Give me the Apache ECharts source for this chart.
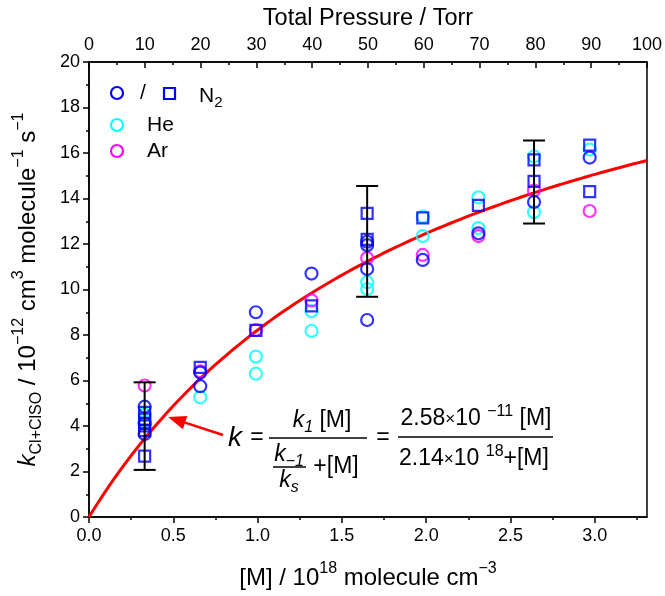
<!DOCTYPE html>
<html>
<head>
<meta charset="utf-8">
<script src="https://cdn.jsdelivr.net/npm/echarts@6/dist/echarts.min.js"></script>
<style>
  html, body { margin: 0; padding: 0; background: #fff; }
  #chart { width: 665px; height: 596px; }
</style>
</head>
<body>
<div id="chart"></div>
<script>
const FONT = '"Liberation Sans", Arial, Helvetica, sans-serif';

// [M] / 1e18 molecule cm^-3 ; k / 1e-12 cm^3 molecule^-1 s^-1
const n2Circles = [
  [0.33, 4.85], [0.33, 3.65], [0.33, 4.10],
  [0.66, 6.35], [0.66, 5.75],
  [0.99, 9.00],
  [1.32, 10.70],
  [1.65, 12.10], [1.65, 11.95], [1.65, 10.90], [1.65, 8.66],
  [1.98, 11.30],
  [2.31, 12.47],
  [2.64, 13.85],
  [2.97, 15.80]
];
const n2Squares = [
  [0.33, 4.60], [0.33, 4.30], [0.33, 4.00], [0.33, 3.80], [0.33, 2.68],
  [0.66, 6.58],
  [0.99, 8.20],
  [1.32, 9.28],
  [1.65, 13.35], [1.65, 12.20],
  [1.98, 13.15],
  [2.31, 13.70],
  [2.64, 15.70], [2.64, 14.75],
  [2.97, 16.35], [2.97, 14.30]
];
const heCircles = [
  [0.33, 4.50], [0.33, 4.20],
  [0.66, 5.26],
  [0.99, 7.05], [0.99, 6.30],
  [1.32, 9.05], [1.32, 8.18],
  [1.65, 10.32], [1.65, 10.02],
  [1.98, 13.20], [1.98, 12.35],
  [2.31, 14.05], [2.31, 12.70],
  [2.64, 15.85], [2.64, 13.40],
  [2.97, 16.15]
];
const arCircles = [
  [0.33, 5.78],
  [0.66, 6.40],
  [0.99, 8.22],
  [1.32, 9.52],
  [1.65, 11.38],
  [1.98, 11.52],
  [2.31, 12.35],
  [2.64, 14.35],
  [2.97, 13.45]
];
// [x, low, high]
const errorBars = [
  [0.33, 2.07, 5.92],
  [1.65, 9.68, 14.55],
  [2.64, 12.90, 16.55]
];

// fitted falloff: k = k1[M] / (k-1/ks + [M])
const fitK1 = 25.8;     // 2.58e-11 in units of 1e-12
const fitKRatio = 2.14; // 2.14e18 in units of 1e18

const xMax = 3.31;       // 100 Torr
const xLabelValues = [0, 0.5, 1.0, 1.5, 2.0, 2.5, 3.0];
const pressureMax = 100;

const fitCurve = [];
for (let i = 0; i <= 120; i++) {
  const m = xMax * i / 120;
  fitCurve.push([m, fitK1 * m / (fitKRatio + m)]);
}

const chart = echarts.init(document.getElementById('chart'), null, { renderer: 'canvas' });

const axisRich = {
  n: { fontSize: 24, lineHeight: 34, fontFamily: FONT, color: '#000' },
  i: { fontSize: 24, lineHeight: 34, fontFamily: FONT, color: '#000', fontStyle: 'italic' },
  sup: { fontSize: 16, lineHeight: 16, fontFamily: FONT, color: '#000', verticalAlign: 'top' },
  sub: { fontSize: 16, lineHeight: 16, fontFamily: FONT, color: '#000', verticalAlign: 'bottom' }
};

const eqRich = {
  n: { fontSize: 23, lineHeight: 30, fontFamily: FONT, color: '#000' },
  i: { fontSize: 23, lineHeight: 30, fontFamily: FONT, color: '#000', fontStyle: 'italic' },
  sup: { fontSize: 16, lineHeight: 16, fontFamily: FONT, color: '#000', verticalAlign: 'top' },
  sub: { fontSize: 16, lineHeight: 16, fontFamily: FONT, color: '#000', verticalAlign: 'bottom', fontStyle: 'italic' },
  x: { fontSize: 17, lineHeight: 30, fontFamily: FONT, color: '#000' }
};

function eqText(x, y, text, align) {
  return {
    type: 'text', x: x, y: y, z: 100,
    style: { text: text, rich: eqRich, align: align || 'center', verticalAlign: 'middle',
             textAlign: align || 'center', textVerticalAlign: 'middle' }
  };
}
function hLine(x1, x2, y, w) {
  return { type: 'line', z: 100, shape: { x1: x1, y1: y, x2: x2, y2: y },
           style: { stroke: '#000', lineWidth: w || 1.5 } };
}

const legendFont = { fontSize: 21, fontFamily: FONT, fill: '#000' };
const tickFont = { fontSize: 18, fontFamily: FONT, color: '#000' };

const option = {
  animation: false,
  backgroundColor: '#fff',
  grid: { left: 89, right: 15, top: 62, bottom: 79, show: true, borderColor: '#000', borderWidth: 1.5, backgroundColor: 'transparent' },
  xAxis: [
    {
      type: 'value', position: 'bottom', min: 0, max: xMax, interval: 0.5,
      name: '{n|[M] / 10}{sup|18}{n| molecule cm}{sup|−3}', nameLocation: 'middle', nameGap: 44,
      nameTextStyle: { rich: axisRich, fontSize: 24, fontFamily: FONT, color: '#000' },
      axisLine: { show: true, lineStyle: { color: '#000', width: 1.5 } },
      axisTick: { show: true, length: 6, inside: false, customValues: xLabelValues, lineStyle: { color: '#000', width: 1.5 } },
      minorTick: { show: true, splitNumber: 2, length: 3, lineStyle: { color: '#000', width: 1.5 } },
      axisLabel: Object.assign({ margin: 10, customValues: xLabelValues, formatter: v => v.toFixed(1) }, tickFont),
      splitLine: { show: false }, minorSplitLine: { show: false }
    },
    {
      type: 'value', position: 'top', min: 0, max: pressureMax, interval: 10,
      name: 'Total Pressure / Torr', nameLocation: 'middle', nameGap: 31,
      nameTextStyle: { fontSize: 23.5, fontFamily: FONT, color: '#000' },
      axisLine: { show: true, lineStyle: { color: '#000', width: 1.5 } },
      axisTick: { show: true, inside: true, length: 6, lineStyle: { color: '#000', width: 1.5 } },
      minorTick: { show: true, splitNumber: 2, length: 3, lineStyle: { color: '#000', width: 1.5 } },
      axisLabel: Object.assign({ margin: 8 }, tickFont),
      splitLine: { show: false }
    }
  ],
  yAxis: {
    type: 'value', min: 0, max: 20, interval: 2,
    name: '{i|k}{sub|Cl+ClSO}{n| / 10}{sup|−12}{n| cm}{sup|3}{n| molecule}{sup|−1}{n| s}{sup|−1}',
    nameLocation: 'middle', nameGap: 44, nameRotate: 90,
    nameTextStyle: { rich: axisRich, fontSize: 24, fontFamily: FONT, color: '#000' },
    axisLine: { show: true, lineStyle: { color: '#000', width: 1.5 } },
    axisTick: { show: true, length: 6, lineStyle: { color: '#000', width: 1.5 } },
    minorTick: { show: true, splitNumber: 2, length: 3, lineStyle: { color: '#000', width: 1.5 } },
    axisLabel: Object.assign({ margin: 9 }, tickFont),
    splitLine: { show: false }
  },
  series: [
    {
      name: 'fit', type: 'line', data: fitCurve, showSymbol: false, symbol: 'none', z: 1,
      lineStyle: { color: '#ff0000', width: 3 }, silent: true
    },
    {
      name: 'He', type: 'scatter', data: heCircles, symbol: 'circle', symbolSize: 12, z: 2,
      itemStyle: { color: 'transparent', borderColor: '#00ffff', borderWidth: 2.2 }
    },
    {
      name: 'Ar', type: 'scatter', data: arCircles, symbol: 'circle', symbolSize: 12, z: 3,
      itemStyle: { color: 'transparent', borderColor: '#ff00ff', borderWidth: 2.2 }
    },
    {
      name: 'N2 circles', type: 'scatter', data: n2Circles, symbol: 'circle', symbolSize: 12, z: 4,
      itemStyle: { color: 'transparent', borderColor: '#0000ff', borderWidth: 2.2 }
    },
    {
      name: 'N2 squares', type: 'scatter', data: n2Squares, symbol: 'rect', symbolSize: 11, z: 5,
      itemStyle: { color: 'transparent', borderColor: '#0000ff', borderWidth: 2.2 }
    },
    {
      name: 'error', type: 'custom', data: errorBars, z: 6,
      encode: { x: 0, y: [1, 2] },
      renderItem: function (params, api) {
        const x = api.value(0);
        const lo = api.coord([x, api.value(1)]);
        const hi = api.coord([x, api.value(2)]);
        const w = 11;
        const st = { stroke: '#000', lineWidth: 2 };
        return {
          type: 'group',
          children: [
            { type: 'line', shape: { x1: lo[0], y1: lo[1], x2: hi[0], y2: hi[1] }, style: st },
            { type: 'line', shape: { x1: lo[0] - w, y1: lo[1], x2: lo[0] + w, y2: lo[1] }, style: st },
            { type: 'line', shape: { x1: hi[0] - w, y1: hi[1], x2: hi[0] + w, y2: hi[1] }, style: st }
          ]
        };
      }
    }
  ],
  graphic: [
    // legend
    { type: 'circle', shape: { cx: 117, cy: 93, r: 6 }, style: { fill: 'none', stroke: '#0000ff', lineWidth: 2.2 } },
    { type: 'text', x: 143, y: 93, style: Object.assign({ text: '/', align: 'center', verticalAlign: 'middle', textAlign: 'center', textVerticalAlign: 'middle' }, legendFont) },
    { type: 'rect', shape: { x: 164, y: 88, width: 11, height: 11 }, style: { fill: 'none', stroke: '#0000ff', lineWidth: 2.2 } },
    { type: 'text', x: 199, y: 96, style: { text: '{n|N}{sub|2}', align: 'left', verticalAlign: 'middle', textAlign: 'left', textVerticalAlign: 'middle',
        rich: { n: { fontSize: 21, lineHeight: 28, fontFamily: FONT, color: '#000' }, sub: { fontSize: 15, lineHeight: 15, fontFamily: FONT, color: '#000', verticalAlign: 'bottom' } } } },
    { type: 'circle', shape: { cx: 117, cy: 125, r: 6 }, style: { fill: 'none', stroke: '#00ffff', lineWidth: 2.2 } },
    { type: 'text', x: 147, y: 125, style: Object.assign({ text: 'He', align: 'left', verticalAlign: 'middle', textAlign: 'left', textVerticalAlign: 'middle' }, legendFont) },
    { type: 'circle', shape: { cx: 117, cy: 151, r: 6 }, style: { fill: 'none', stroke: '#ff00ff', lineWidth: 2.2 } },
    { type: 'text', x: 147, y: 151, style: Object.assign({ text: 'Ar', align: 'left', verticalAlign: 'middle', textAlign: 'left', textVerticalAlign: 'middle' }, legendFont) },

    // arrow pointing to the fitted curve
    { type: 'line', z: 100, shape: { x1: 223, y1: 435, x2: 185, y2: 422.6 }, style: { stroke: '#ff0000', lineWidth: 2.5 } },
    { type: 'polygon', z: 100, shape: { points: [[168, 417], [187.3, 416], [182.9, 429.3]] }, style: { fill: '#ff0000' } },

    // rate expression
    { type: 'text', x: 235, y: 438, z: 100, style: { text: 'k', fontSize: 28, fontStyle: 'italic', fontFamily: FONT, fill: '#000',
        align: 'center', verticalAlign: 'middle', textAlign: 'center', textVerticalAlign: 'middle' } },
    eqText(257, 438, '{n|=}'),
    eqText(322, 421, '{i|k}{sub|1}{n| [M]}'),
    hLine(269, 367, 438),
    eqText(289, 455, '{i|k}{sub|−1}'),
    hLine(273, 306, 467, 1.3),
    eqText(289, 481, '{i|k}{sub|s}'),
    eqText(336, 467, '{n|+[M]}'),
    eqText(383, 438, '{n|=}'),
    eqText(476, 419, '{n|2.58}{x|×}{n|10 }{sup|−11}{n| [M]}'),
    hLine(398, 553, 437),
    eqText(474, 459, '{n|2.14}{x|×}{n|10 }{sup|18}{n|+[M]}')
  ]
};

chart.setOption(option);
</script>
</body>
</html>
